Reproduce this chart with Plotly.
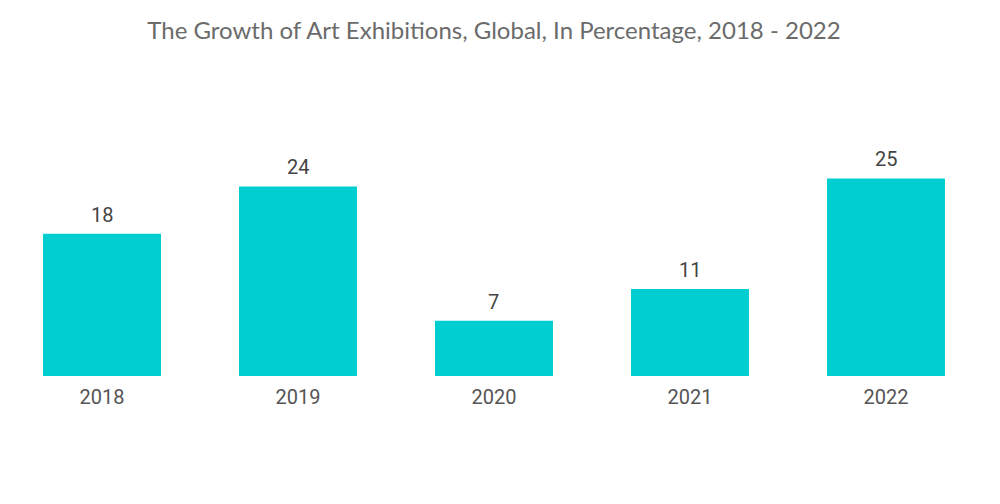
import plotly.graph_objects as go

years = ["2018", "2019", "2020", "2021", "2022"]
growth = [18, 24, 7, 11, 25]

fig = go.Figure()
fig.add_trace(go.Bar(
    x=years, y=growth,
    marker=dict(color="#00CED1", line=dict(width=0)),
))
for i, v in enumerate(growth):
    fig.add_annotation(
        x=i, y=v, xref="x", yref="y", text=str(v), showarrow=False,
        yanchor="bottom", yshift=5,
        font=dict(family="Roboto", size=20, color="#444444"),
    )
fig.update_layout(
    width=1000, height=504,
    margin=dict(l=0, r=16, t=100, b=136),
    paper_bgcolor="white", plot_bgcolor="white",
    bargap=0.398,
    showlegend=False,
    title=dict(
        text="The Growth of Art Exhibitions, Global, In Percentage, 2018 - 2022",
        x=0.486, xanchor="center", y=0.956, yanchor="middle",
        font=dict(family="Lato", size=24, color="#6b6b6b"),
    ),
    xaxis=dict(
        type="category",
        range=[-0.4796, 4.541],
        showgrid=False, showline=False, zeroline=False, ticks="",
        ticklabelstandoff=7,
        tickfont=dict(family="Roboto", size=20, color="#555555"),
    ),
    yaxis=dict(
        range=[0, 33.92], visible=False, showgrid=False, zeroline=False,
    ),
)
fig.write_html("out.html")
